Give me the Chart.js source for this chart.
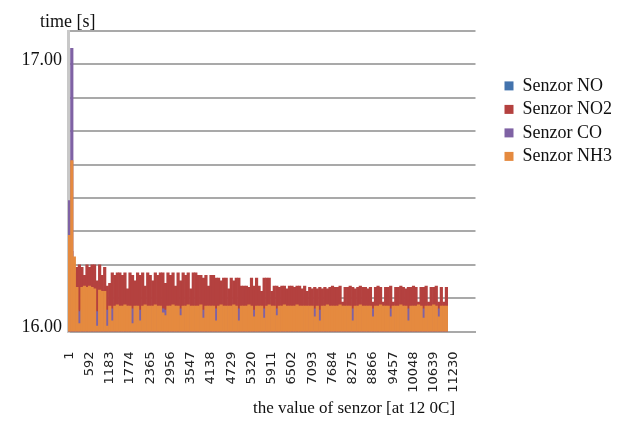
<!DOCTYPE html>
<html lang="en">
<head>
  <meta charset="UTF-8" />
  <title>Senzor timing</title>
  <script src="https://cdn.jsdelivr.net/npm/chart.js"></script>
  <style>
    html, body { margin: 0; padding: 0; background: #fff; }
    .wrap { position: relative; width: 617px; height: 427px; }
    .axis-title { position: absolute; font-family: "Liberation Serif", serif; color: #111; white-space: nowrap; line-height: 1; }
    #yTitle { left: 40px; top: 12px; font-size: 18px; }
    #xTitle { left: 253px; top: 399px; font-size: 17px; }
  </style>
</head>
<body>
  <div class="wrap">
    <canvas id="timeChart" width="617" height="427"></canvas>
    <div class="axis-title" id="yTitle">time [s]</div>
    <div class="axis-title" id="xTitle">the value of senzor [at 12 0C]</div>
  </div>

  <script>
    // x axis: sample numbers shown every 591 samples, each tick split into 8 bins
    const xTickLabels = [1, 592, 1183, 1774, 2365, 2956, 3547, 4138, 4729, 5320,
      5911, 6502, 7093, 7684, 8275, 8866, 9457, 10048, 10639, 11230];
    const binsPerTick = 8;
    const binCount = 161;

    const seriesNames = ['Senzor NO', 'Senzor NO2', 'Senzor CO', 'Senzor NH3'];
    const seriesColors = ['#4373ad', '#b4413f', '#7f62a4', '#e58a3f'];

    // time [s] per bin
    const senzorNO = [
      16.05, 16.05, 16.05, 16.05, 16.04, 16.05, 16.05, 16.05, 16.05, 16.05,
      16.05, 16.04, 16.05, 16.05, 16.05, 16.04, 16.05, 16.05, 16.05, 16.05,
      16.05, 16.05, 16.05, 16.05, 16.04, 16.05, 16.05, 16.05, 16.05, 16.05,
      16.05, 16.05, 16.05, 16.05, 16.05, 16.05, 16.05, 16.05, 16.05, 16.05,
      16.05, 16.05, 16.05, 16.05, 16.05, 16.05, 16.05, 16.05, 16.05, 16.05,
      16.05, 16.05, 16.05, 16.05, 16.05, 16.05, 16.05, 16.05, 16.05, 16.05,
      16.05, 16.05, 16.05, 16.05, 16.05, 16.05, 16.05, 16.05, 16.05, 16.05,
      16.05, 16.05, 16.05, 16.05, 16.05, 16.05, 16.05, 16.05, 16.05, 16.05,
      16.05, 16.05, 16.05, 16.05, 16.05, 16.05, 16.05, 16.05, 16.05, 16.05,
      16.05, 16.05, 16.05, 16.05, 16.05, 16.05, 16.05, 16.05, 16.05, 16.05,
      16.05, 16.05, 16.05, 16.05, 16.05, 16.05, 16.05, 16.05, 16.05, 16.05,
      16.05, 16.05, 16.05, 16.05, 16.05, 16.05, 16.05, 16.05, 16.05, 16.05,
      16.05, 16.05, 16.05, 16.05, 16.05, 16.05, 16.05, 16.05, 16.05, 16.05,
      16.05, 16.05, 16.05, 16.05, 16.05, 16.05, 16.05, 16.05, 16.05, 16.05,
      16.05, 16.05, 16.05, 16.05, 16.05, 16.05, 16.05, 16.05, 16.05, 16.05
    ];
    const senzorNO2 = [
      16.30, 16.30, 16.22, 16.24, 16.25, 16.24, 16.21, 16.25, 16.24, 16.25,
      16.25, 16.19, 16.25, 16.21, 16.24, 16.17, 16.18, 16.22, 16.21, 16.22,
      16.22, 16.21, 16.22, 16.16, 16.22, 16.21, 16.19, 16.22, 16.21, 16.22,
      16.17, 16.22, 16.21, 16.19, 16.22, 16.21, 16.22, 16.22, 16.18, 16.22,
      16.21, 16.22, 16.17, 16.22, 16.19, 16.22, 16.21, 16.22, 16.16, 16.22,
      16.22, 16.21, 16.21, 16.20, 16.21, 16.17, 16.21, 16.21, 16.20, 16.20,
      16.19, 16.20, 16.20, 16.16, 16.20, 16.19, 16.20, 16.20, 16.17, 16.17,
      16.17, 16.165, 16.20, 16.17, 16.20, 16.17, 16.15, 16.20, 16.20, 16.20,
      16.15, 16.17, 16.17, 16.165, 16.17, 16.17, 16.16, 16.17, 16.17, 16.165,
      16.17, 16.17, 16.16, 16.17, 16.15, 16.165, 16.16, 16.165, 16.16, 16.165,
      16.16, 16.165, 16.16, 16.165, 16.17, 16.165, 16.165, 16.17, 16.11, 16.165,
      16.165, 16.17, 16.165, 16.16, 16.165, 16.17, 16.165, 16.165, 16.16, 16.165,
      16.11, 16.165, 16.17, 16.165, 16.11, 16.165, 16.165, 16.17, 16.11, 16.165,
      16.165, 16.17, 16.165, 16.16, 16.165, 16.165, 16.17, 16.165, 16.11, 16.165,
      16.165, 16.17, 16.11, 16.165, 16.165, 16.17, 16.11, 16.165, 16.11, 16.165
    ];
    const senzorCO = [
      16.49, 17.06, 16.08, 16.08, 16.075, 16.08, 16.08, 16.08, 16.08, 16.08,
      16.08, 16.075, 16.08, 16.08, 16.08, 16.08, 16.08, 16.085, 16.08, 16.08,
      16.08, 16.08, 16.08, 16.08, 16.08, 16.085, 16.08, 16.08, 16.08, 16.08,
      16.08, 16.08, 16.08, 16.08, 16.08, 16.08, 16.08, 16.085, 16.08, 16.08,
      16.08, 16.08, 16.08, 16.08, 16.085, 16.08, 16.08, 16.08, 16.08, 16.08,
      16.08, 16.08, 16.08, 16.08, 16.08, 16.08, 16.08, 16.08, 16.085, 16.08,
      16.08, 16.08, 16.08, 16.08, 16.08, 16.08, 16.08, 16.085, 16.08, 16.08,
      16.08, 16.08, 16.08, 16.08, 16.08, 16.08, 16.08, 16.085, 16.08, 16.08,
      16.08, 16.08, 16.085, 16.08, 16.08, 16.08, 16.08, 16.08, 16.08, 16.08,
      16.08, 16.08, 16.08, 16.08, 16.08, 16.08, 16.08, 16.085, 16.08, 16.08,
      16.08, 16.08, 16.08, 16.08, 16.08, 16.08, 16.08, 16.08, 16.08, 16.08,
      16.08, 16.08, 16.085, 16.08, 16.08, 16.08, 16.08, 16.08, 16.08, 16.08,
      16.085, 16.08, 16.08, 16.08, 16.08, 16.08, 16.08, 16.085, 16.08, 16.08,
      16.08, 16.08, 16.08, 16.08, 16.085, 16.08, 16.08, 16.08, 16.08, 16.08,
      16.085, 16.08, 16.08, 16.08, 16.08, 16.08, 16.085, 16.08, 16.08, 16.08
    ];
    const senzorNH3 = [
      16.36, 16.64, 16.28, 16.165, 16.03, 16.165, 16.17, 16.165, 16.17, 16.165,
      16.16, 16.02, 16.155, 16.15, 16.15, 16.02, 16.095, 16.04, 16.095, 16.10,
      16.095, 16.095, 16.10, 16.095, 16.095, 16.03, 16.095, 16.095, 16.04, 16.095,
      16.10, 16.095, 16.095, 16.095, 16.10, 16.095, 16.095, 16.07, 16.06, 16.095,
      16.095, 16.10, 16.095, 16.095, 16.06, 16.095, 16.095, 16.10, 16.095, 16.095,
      16.095, 16.095, 16.10, 16.05, 16.095, 16.095, 16.095, 16.095, 16.04, 16.095,
      16.10, 16.095, 16.095, 16.095, 16.095, 16.10, 16.095, 16.04, 16.095, 16.095,
      16.095, 16.10, 16.095, 16.055, 16.095, 16.095, 16.095, 16.05, 16.095, 16.10,
      16.095, 16.095, 16.06, 16.095, 16.095, 16.10, 16.095, 16.095, 16.095, 16.095,
      16.10, 16.095, 16.095, 16.095, 16.095, 16.095, 16.095, 16.055, 16.095, 16.04,
      16.095, 16.095, 16.10, 16.095, 16.095, 16.095, 16.095, 16.10, 16.095, 16.095,
      16.095, 16.095, 16.04, 16.095, 16.095, 16.10, 16.095, 16.095, 16.095, 16.095,
      16.055, 16.095, 16.095, 16.10, 16.095, 16.095, 16.095, 16.055, 16.095, 16.095,
      16.095, 16.10, 16.095, 16.095, 16.04, 16.095, 16.095, 16.095, 16.10, 16.095,
      16.05, 16.095, 16.095, 16.095, 16.10, 16.095, 16.055, 16.095, 16.095, 16.095
    ];

    const seriesData = [senzorNO, senzorNO2, senzorCO, senzorNH3];
    // back to front: NO, NO2, CO, NH3 (higher order is drawn first)
    const drawOrder = [3, 2, 1, 0];

    const binLabels = Array.from({ length: binCount }, (_, i) => String(Math.round(1 + i * 591 / binsPerTick)));

    const datasets = seriesNames.map((name, i) => ({
      label: name,
      data: seriesData[i],
      backgroundColor: seriesColors[i],
      borderWidth: 0,
      grouped: false,
      barPercentage: 1,
      categoryPercentage: 1,
      order: drawOrder[i]
    }));

    const ctx = document.getElementById('timeChart').getContext('2d');
    new Chart(ctx, {
      type: 'bar',
      data: { labels: binLabels, datasets: datasets },
      options: {
        responsive: false,
        animation: false,
        devicePixelRatio: 1,
        layout: { padding: { top: 31, right: 0, bottom: 0, left: 0 } },
        plugins: {
          tooltip: { enabled: false },
          legend: {
            position: 'right',
            align: 'start',
            maxWidth: 118,
            title: { display: true, text: ' ', font: { size: 12 }, padding: { top: 26, bottom: 0 } },
            labels: {
              boxWidth: 9,
              boxHeight: 9,
              padding: 5.5,
              color: '#111',
              font: { family: 'Liberation Serif', size: 18 },
              sort: (a, b) => a.datasetIndex - b.datasetIndex
            }
          }
        },
        scales: {
          x: {
            type: 'category',
            offset: true,
            grid: { display: false },
            border: { display: true, color: '#a9a9a9', width: 2 },
            ticks: {
              autoSkip: false,
              minRotation: 90,
              maxRotation: 90,
              padding: 12,
              color: '#222',
              font: { family: 'DejaVu Sans', size: 13 },
              callback: (v, i) => i % binsPerTick === 0 && xTickLabels[i / binsPerTick] !== undefined
                ? String(xTickLabels[i / binsPerTick]) : ''
            },
            afterFit: s => { s.height = 95.5; }
          },
          y: {
            min: 16,
            max: 17.125,
            grid: { color: '#a9a9a9', lineWidth: 2, drawTicks: false },
            border: { display: true, color: '#c8c8c8', width: 3 },
            ticks: {
              stepSize: 0.125,
              padding: 6,
              labelOffset: -4,
              color: '#111',
              font: { family: 'Liberation Serif', size: 18 },
              callback: v => (v === 16 || v === 17) ? v.toFixed(2) : ''
            },
            afterFit: s => { s.width = 68; }
          },
          // empty strip between plot and legend
          gap: {
            type: 'linear',
            position: 'right',
            grid: { display: false },
            border: { display: false },
            ticks: { display: false },
            afterFit: s => { s.width = 23.5; }
          }
        }
      }
    });
  </script>
</body>
</html>
